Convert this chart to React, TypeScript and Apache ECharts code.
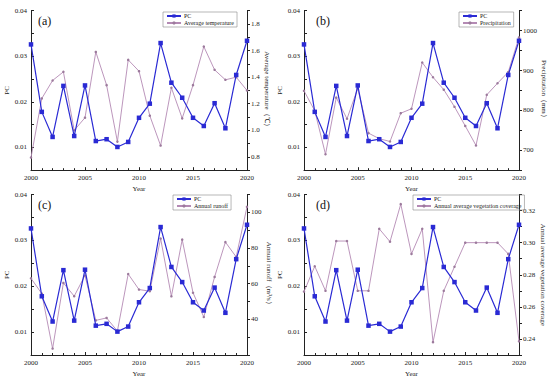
import React, { useEffect, useRef } from "react";
import * as echarts from "echarts";

const years = [2000, 2001, 2002, 2003, 2004, 2005, 2006, 2007, 2008, 2009, 2010, 2011, 2012, 2013, 2014, 2015, 2016, 2017, 2018, 2019, 2020];
const pc = [0.0326, 0.0178, 0.0123, 0.0235, 0.0125, 0.0236, 0.0114, 0.0118, 0.0101, 0.0112, 0.0165, 0.0196, 0.0329, 0.0242, 0.0209, 0.0165, 0.0147, 0.0197, 0.0142, 0.0259, 0.0334];
const temperature = [0.795, 1.24, 1.375, 1.44, 1.0, 1.095, 1.59, 1.34, 0.915, 1.53, 1.445, 1.11, 0.885, 1.32, 1.09, 1.34, 1.63, 1.455, 1.38, 1.4, 1.3];
const precipitation = [849, 799, 690, 832, 779, 855, 743, 729, 722, 793, 804, 920, 883, 852, 809, 761, 712, 839, 868, 896, 983];
const runoff = [63, 54.4, 23.6, 60.4, 53, 64.6, 39.4, 40.8, 33.4, 65.4, 56.7, 55.8, 85.3, 52.9, 84.7, 54.9, 41.3, 63.8, 83.3, 75, 103.1];
const vegetation = [0.2695, 0.2853, 0.27, 0.301, 0.301, 0.27, 0.27, 0.3086, 0.3006, 0.324, 0.293, 0.3086, 0.238, 0.27, 0.285, 0.3, 0.3, 0.3, 0.3, 0.293, 0.2385];

const pcTicks = [0.01, 0.02, 0.03, 0.04];
const tempTicks = [0.8, 1.0, 1.2, 1.4, 1.6, 1.8];
const precipTicks = [700, 800, 900, 1000];
const runoffTicks = [40, 60, 80, 100];
const vegTicks = [0.24, 0.26, 0.28, 0.3, 0.32];

const panelLabels = ["(a)", "(b)", "(c)", "(d)"];
const rightNames = ["Average temperature（℃）", "Precipitation（mm）", "Annual runoff（m³/s）", "Annual average vegetation coverage"];
const rightSeriesNames = ["Average temperature", "Precipitation", "Annual runoff", "Annual average vegetation coverage"];

const FONT = "Liberation Serif";
const BLUE = "#2a2ad4";
const MAUVE = "#b48ab4";
const AXIS = "#222";

function pairs(vals: number[]) {
  return years.map((y, i) => [y, vals[i]]);
}

export default function App() {
  const ref = useRef<HTMLDivElement>(null);
  useEffect(() => {
    document.body.style.margin = "0";
    const chart = echarts.init(ref.current!, undefined, { renderer: "svg" });

    const grids = [
      { left: 31, top: 10.7, width: 216, height: 159.5 },
      { left: 304, top: 10.7, width: 215, height: 159.5 },
      { left: 31, top: 194.5, width: 216, height: 160.5 },
      { left: 304, top: 194.5, width: 215, height: 160.5 },
    ];

    const rightCfg = [
      { min: 0.7, max: 1.9, labels: tempTicks, ticks: [0.7, 0.8, 0.9, 1.0, 1.1, 1.2, 1.3, 1.4, 1.5, 1.6, 1.7, 1.8, 1.9], fmt: (v: number) => v.toFixed(1), data: temperature },
      { min: 650, max: 1050, labels: precipTicks, ticks: [650, 700, 750, 800, 850, 900, 950, 1000, 1050], fmt: (v: number) => String(v), data: precipitation },
      { min: 20, max: 110, labels: runoffTicks, ticks: [20, 30, 40, 50, 60, 70, 80, 90, 100, 110], fmt: (v: number) => String(v), data: runoff },
      { min: 0.23, max: 0.33, labels: vegTicks, ticks: [0.23, 0.24, 0.25, 0.26, 0.27, 0.28, 0.29, 0.3, 0.31, 0.32, 0.33], fmt: (v: number) => v.toFixed(2), data: vegetation },
    ];

    const labelStyle = { fontFamily: FONT, fontSize: 7, color: "#222" };

    const xAxes = grids.map((_, i) => ({
      type: "value",
      gridIndex: i,
      min: 2000,
      max: 2020,
      interval: 5,
      name: "Year",
      nameLocation: "middle",
      nameGap: 15,
      nameTextStyle: { fontFamily: FONT, fontSize: 7, color: "#222" },
      axisLine: { show: true, lineStyle: { color: AXIS, width: 1 } },
      axisTick: { show: true, inside: true, length: 3, lineStyle: { color: AXIS } },
      minorTick: { show: true, splitNumber: 5, length: 2, lineStyle: { color: AXIS } },
      axisLabel: { ...labelStyle, margin: 4, formatter: (v: number) => String(v) },
      splitLine: { show: false },
    }));

    const yAxes: any[] = [];
    grids.forEach((_, i) => {
      yAxes.push({
        type: "value",
        gridIndex: i,
        position: "left",
        min: 0.005,
        max: 0.04,
        name: "PC",
        nameLocation: "middle",
        nameRotate: 90,
        nameGap: 19,
        nameTextStyle: { fontFamily: FONT, fontSize: 7, color: "#222" },
        axisLine: { show: true, lineStyle: { color: AXIS, width: 1 } },
        axisTick: { show: true, inside: true, length: 3, customValues: [0.005, 0.01, 0.015, 0.02, 0.025, 0.03, 0.035, 0.04], lineStyle: { color: AXIS } },
        axisLabel: { ...labelStyle, margin: 4, customValues: pcTicks, formatter: (v: number) => v.toFixed(2) },
        splitLine: { show: false },
      });
      const r = rightCfg[i];
      yAxes.push({
        type: "value",
        gridIndex: i,
        position: "right",
        min: r.min,
        max: r.max,
        name: rightNames[i],
        nameLocation: "middle",
        nameRotate: -90,
        nameGap: 13,
        nameTextStyle: { fontFamily: FONT, fontSize: 7, color: "#222" },
        axisLine: { show: true, lineStyle: { color: AXIS, width: 1 } },
        axisTick: { show: true, inside: false, length: 3, customValues: r.ticks, lineStyle: { color: AXIS } },
        axisLabel: { ...labelStyle, margin: 4, customValues: r.labels, formatter: r.fmt },
        splitLine: { show: false },
      });
    });

    const series: any[] = [];
    grids.forEach((_, i) => {
      series.push({
        name: rightSeriesNames[i],
        type: "line",
        xAxisIndex: i,
        yAxisIndex: 2 * i + 1,
        data: pairs(rightCfg[i].data),
        symbol: "circle",
        symbolSize: 2.5,
        itemStyle: { color: "#9c7a9c" },
        lineStyle: { color: MAUVE, width: 0.9 },
        z: 2,
      });
      series.push({
        name: "PC",
        type: "line",
        xAxisIndex: i,
        yAxisIndex: 2 * i,
        data: pairs(pc),
        symbol: "rect",
        symbolSize: 4.5,
        itemStyle: { color: BLUE },
        lineStyle: { color: BLUE, width: 1.2 },
        z: 3,
      });
    });

    const legendPos = [
      { left: 163, top: 12 },
      { left: 459, top: 12 },
      { left: 173, top: 195 },
      { left: 413, top: 195 },
    ];
    const legends = legendPos.map((p, i) => ({
      ...p,
      orient: "vertical",
      data: [{ name: "PC", itemStyle: { color: BLUE }, lineStyle: { color: BLUE } }, { name: rightSeriesNames[i], itemStyle: { color: "#9c7a9c" }, lineStyle: { color: MAUVE } }],
      borderColor: "#888",
      borderWidth: 0.6,
      padding: [1, 3, 1, 3],
      itemGap: 1,
      itemWidth: 14,
      itemHeight: 4,
      textStyle: { fontFamily: FONT, fontSize: 6, color: "#222", padding: [0, 0, 0, -2] },
      selectedMode: false,
    }));

    const graphicPos = [
      { x: 38, y: 15 },
      { x: 316, y: 15 },
      { x: 38, y: 199 },
      { x: 316, y: 199 },
    ];
    const graphic = graphicPos.map((p, i) => ({
      type: "text",
      x: p.x,
      y: p.y,
      style: { text: panelLabels[i], fontFamily: FONT, fontSize: 12, fill: "#111" },
    }));

    chart.setOption({
      animation: false,
      backgroundColor: "#fff",
      grid: grids,
      xAxis: xAxes,
      yAxis: yAxes,
      series,
      legend: legends,
      graphic,
    });
    return () => chart.dispose();
  }, []);
  return <div ref={ref} style={{ width: 550, height: 379, position: "fixed", left: 0, top: 0 }} />;
}
